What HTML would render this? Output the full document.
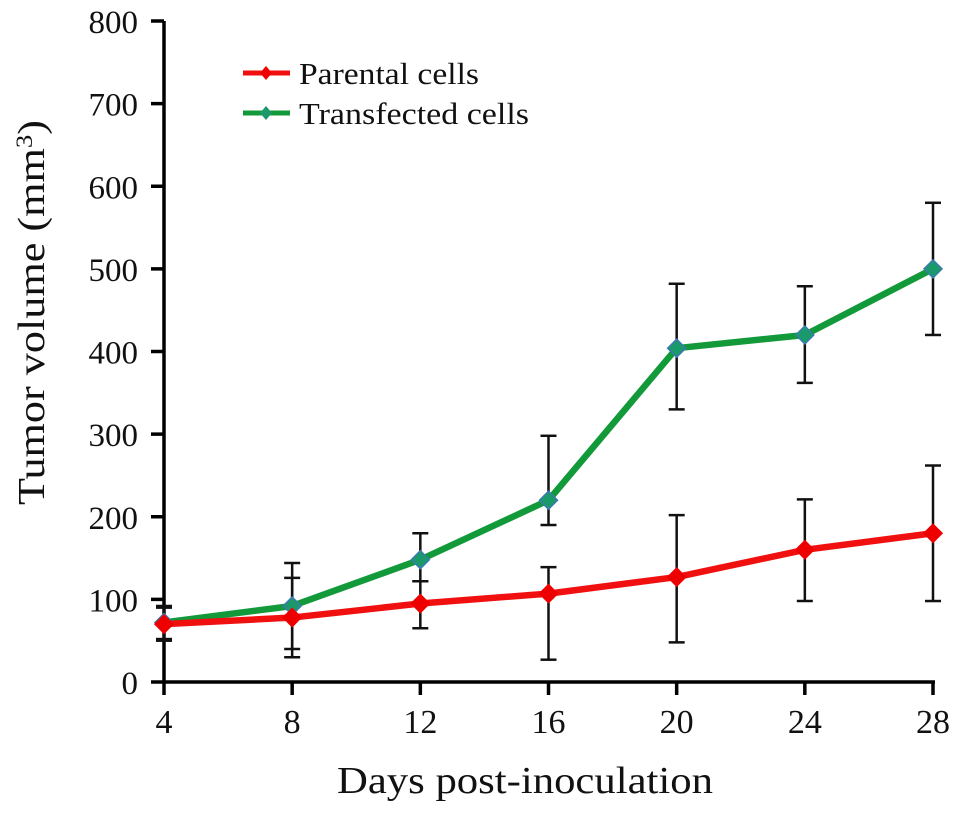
<!DOCTYPE html>
<html><head><meta charset="utf-8"><style>
body{margin:0;background:#fff}
svg text{font-family:"Liberation Serif",serif;fill:#111}
</style></head><body>
<svg id="chart" width="969" height="816" viewBox="0 0 969 816" xmlns="http://www.w3.org/2000/svg">
<g id="axes"></g>
<g id="series"></g>
<g>
<line x1="243" y1="73" x2="290" y2="73" stroke="#f01010" stroke-width="5"/>
<path d="M266 66 L272 73 L266 80 L260 73Z" fill="#e00"/>
<text x="299" y="84" font-size="31" textLength="180" lengthAdjust="spacingAndGlyphs">Parental cells</text>
<line x1="243" y1="113" x2="290" y2="113" stroke="#129a3a" stroke-width="5"/>
<path d="M266 106 L272 113 L266 120 L260 113Z" fill="#1a9a6a"/>
<text x="299" y="124" font-size="31" textLength="230" lengthAdjust="spacingAndGlyphs">Transfected cells</text>
</g>
<text x="337" y="793" font-size="38" textLength="376" lengthAdjust="spacingAndGlyphs">Days post-inoculation</text>
<text transform="translate(44,505) rotate(-90)" font-size="38" textLength="385" lengthAdjust="spacingAndGlyphs">Tumor volume (mm<tspan dy="-12" font-size="23">3</tspan><tspan dy="12">)</tspan></text>
</svg>
<script>
const days=[4,8,12,16,20,24,28];
const parental=[70,78,95,107,127,160,180];
const parentalErrUp=[20,48,27,32,75,61,82];
const parentalErrDown=[20,48,30,80,79,62,82];
const transfected=[72,92,148,220,404,420,500];
const transfectedErrUp=[20,52,32,78,78,59,80];
const transfectedErrDown=[20,52,26,30,74,58,80];
const yTicks=[0,100,200,300,400,500,600,700,800];
const xTicks=[4,8,12,16,20,24,28];
const NS="http://www.w3.org/2000/svg";
const xs=d=>164+(d-4)*(933-164)/24;
const ys=v=>682-v*(682-21)/800;
function mk(tag,attrs,parent){const e=document.createElementNS(NS,tag);for(const k in attrs)e.setAttribute(k,attrs[k]);parent.appendChild(e);return e;}
const axes=document.getElementById('axes'),ser=document.getElementById('series');
let e=mk('line',{x1:164,y1:ys(0),x2:935,y2:ys(0),stroke:'#000','stroke-width':3.5},axes);


e=mk('line',{x1:164,y1:ys(0)+1,x2:164,y2:ys(800),stroke:'#000','stroke-width':3.5},axes);


yTicks.forEach(v=>{
 let t=mk('line',{x1:151,y1:ys(v),x2:164,y2:ys(v),stroke:'#000','stroke-width':3.5},axes);
 
 
 let l=mk('text',{x:138,y:ys(v)+12,'font-size':33,'text-anchor':'end'},axes);l.textContent=v;
 
 
});
xTicks.forEach(d=>{
 let t=mk('line',{x1:xs(d),y1:ys(0),x2:xs(d),y2:ys(0)+13,stroke:'#000','stroke-width':3.5},axes);
 
 
 let l=mk('text',{x:xs(d),y:ys(0)+51,'font-size':34,'text-anchor':'middle'},axes);l.textContent=d;
 
 
});
function drawErr(vals,up,down,name){
 vals.forEach((v,i)=>{const x=xs(days[i]),t=ys(v+up[i]),b=ys(v-down[i]);
  const g=mk('g',{stroke:'#111','stroke-width':2.5},ser);
  
  
  mk('line',{x1:x,y1:t,x2:x,y2:b},g);
  mk('line',{x1:x-8,y1:t,x2:x+8,y2:t},g);
  mk('line',{x1:x-8,y1:b,x2:x+8,y2:b},g);
 });
}
function drawLine(vals,color,mcol,stroke2,name){
 const p=mk('polyline',{points:vals.map((v,i)=>xs(days[i])+','+ys(v)).join(' '),fill:'none',stroke:color,'stroke-width':6.5,'stroke-linejoin':'round'},ser);
 
 
 vals.forEach((v,i)=>{const x=xs(days[i]),y=ys(v);
  const m=mk('path',{d:`M${x} ${y-9}L${x+9} ${y}L${x} ${y+9}L${x-9} ${y}Z`,fill:mcol,stroke:stroke2,'stroke-width':1.5},ser);
  
  
 });
}
drawErr(transfected,transfectedErrUp,transfectedErrDown,'transfected');
drawErr(parental,parentalErrUp,parentalErrDown,'parental');
drawLine(transfected,'#129a3a','#1a9a6a','#3a7ab0','transfected');
drawLine(parental,'#f01010','#e00','#e00','parental');
</script>
</body></html>
